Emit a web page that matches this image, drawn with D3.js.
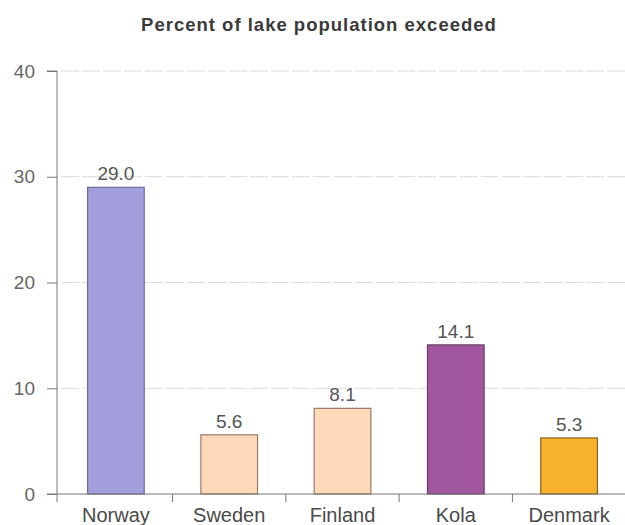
<!DOCTYPE html>
<html>
<head>
<meta charset="utf-8">
<script src="https://cdn.jsdelivr.net/npm/d3@7"></script>
<style>
  html, body { margin: 0; padding: 0; background: #fff; }
  svg { display: block; font-family: "Liberation Sans", Arial, sans-serif; }
</style>
</head>
<body>
<svg id="chart" width="625" height="525"></svg>
<script>
// Share of lakes where the critical load is exceeded, by region
const regions = ["Norway", "Sweden", "Finland", "Kola", "Denmark"];
const percents = [29.0, 5.6, 8.1, 14.1, 5.3];
const fills = ["#a39edc", "#fdd9ba", "#fdd9ba", "#a1579f", "#f8b22c"];
const strokes = ["#6f6a9c", "#9c7a64", "#9c7a64", "#6a3a68", "#8a6418"];
const yTicks = [0, 10, 20, 30, 40];
const title = "Percent of lake population exceeded";

(function () {
  const svg = d3.select("#chart");
  const plotLeft = 57, plotRight = 628, plotTop = 71, plotBottom = 494;

  const x = d3.scaleBand().domain(regions).range([plotLeft, plotRight]).paddingInner(0.5).paddingOuter(0.27);
  const y = d3.scaleLinear().domain([0, 40]).range([plotBottom, plotTop]);

  // title
  svg.append("text")
    .attr("x", 319).attr("y", 31)
    .attr("text-anchor", "middle")
    .attr("font-size", 18.5).attr("font-weight", "bold")
    .attr("letter-spacing", 1)
    .attr("fill", "#3a3a3a")
    .text(title);

  // horizontal grid lines
  svg.append("g").selectAll("line")
    .data(yTicks.filter(d => d > 0))
    .join("line")
    .attr("x1", plotLeft + 4).attr("x2", 625)
    .attr("y1", d => y(d)).attr("y2", d => y(d))
    .attr("stroke", "#dcdcdc").attr("stroke-width", 1)
    .attr("stroke-dasharray", "18,3");

  // y axis
  const yAxis = svg.append("g")
    .attr("transform", `translate(${plotLeft},0)`)
    .call(d3.axisLeft(y).tickValues(yTicks).tickSize(10).tickPadding(12).tickFormat(d3.format("d")));
  yAxis.select(".domain").attr("stroke", "#777").attr("d", `M-10,${plotTop}H0V${plotBottom}`);
  yAxis.selectAll(".tick line").attr("stroke", "#777");
  yAxis.selectAll(".tick text").attr("font-size", 19).attr("fill", "#666")
    .attr("font-family", "Liberation Sans, Arial, sans-serif");

  // bars
  svg.append("g").selectAll("rect")
    .data(regions)
    .join("rect")
    .attr("x", d => x(d))
    .attr("width", x.bandwidth())
    .attr("y", (d, i) => y(percents[i]))
    .attr("height", (d, i) => y(0) - y(percents[i]))
    .attr("fill", (d, i) => fills[i])
    .attr("stroke", (d, i) => strokes[i])
    .attr("stroke-width", 1.2);

  // value labels
  svg.append("g").selectAll("text")
    .data(regions)
    .join("text")
    .attr("x", d => x(d) + x.bandwidth() / 2)
    .attr("y", (d, i) => y(percents[i]) - 7)
    .attr("text-anchor", "middle")
    .attr("font-size", 19).attr("fill", "#555")
    .text((d, i) => percents[i].toFixed(1));

  // x axis with boundary ticks between categories
  const boundaries = [plotLeft].concat(regions.map(d => x(d) + x.bandwidth() + x.step() * 0.25));
  const xAxis = svg.append("g");
  xAxis.append("line")
    .attr("x1", plotLeft - 10).attr("x2", 625)
    .attr("y1", plotBottom).attr("y2", plotBottom)
    .attr("stroke", "#777");
  xAxis.selectAll("line.tick")
    .data(boundaries)
    .join("line")
    .attr("class", "tick")
    .attr("x1", d => d).attr("x2", d => d)
    .attr("y1", plotBottom).attr("y2", plotBottom + 8)
    .attr("stroke", "#777");
  xAxis.selectAll("text")
    .data(regions)
    .join("text")
    .attr("x", d => x(d) + x.bandwidth() / 2)
    .attr("y", 522)
    .attr("text-anchor", "middle")
    .attr("font-size", 20).attr("fill", "#4a4a4a")
    .text(d => d);
})();
</script>
</body>
</html>
